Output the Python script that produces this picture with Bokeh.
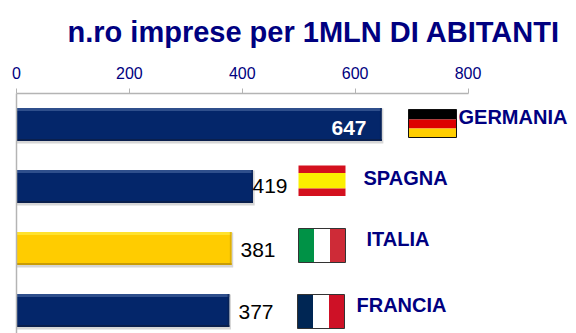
from bokeh.plotting import figure
from bokeh.embed import file_html
from bokeh.resources import INLINE
from bokeh.models import Range1d, FixedTicker, Title
from bokeh.core.properties import value

title_text = "n.ro imprese per 1MLN DI ABITANTI"
countries = ["GERMANIA", "SPAGNA", "ITALIA", "FRANCIA"]
values = [647, 419, 381, 377]
tick_values = [0, 200, 400, 600, 800]
fill = ["#04266a", "#04266a", "#ffcc00", "#04266a"]
top_band = ["#2f4f8c", "#2f4f8c", "#ffe22e", "#2f4f8c"]
low_band = ["#0a1f4d", "#0a1f4d", "#c99c06", "#0a1f4d"]
value_colors = ["white", "black", "black", "black"]

NAVY = "#000080"
W, H = 576, 333
X0, X1 = 16, 576          # page pixels of the plot frame
Y0, Y1 = 93, 333
PXU = 0.5644              # pixels per data unit
STEP = 62.0               # pixels per bar slot
rows = list(range(len(values)))

p = figure(width=W, height=H, output_backend="svg", toolbar_location=None,
           x_axis_location="above",
           x_range=Range1d(0, (X1 - X0) / PXU),
           y_range=Range1d(-0.5 + (Y1 - Y0) / STEP, -0.5),
           min_border_left=X0, min_border_right=0,
           min_border_top=Y0, min_border_bottom=0)
p.outline_line_color = None
p.background_fill_color = "white"
p.grid.visible = False

ax = p.xaxis[0]
ax.ticker = FixedTicker(ticks=tick_values)
ax.bounds = (0, 800)
ax.axis_line_color = "#b4b4b4"
ax.axis_line_width = 1.5
ax.major_tick_line_color = "#b4b4b4"
ax.major_tick_out = 5
ax.major_tick_in = 0
ax.minor_tick_line_color = None
ax.major_label_text_color = NAVY
ax.major_label_text_font = "Liberation Sans"
ax.major_label_text_font_size = "16px"
ax.major_label_standoff = 10

ay = p.yaxis[0]
ay.ticker = FixedTicker(ticks=[])
ay.axis_line_color = "#b4b4b4"
ay.axis_line_width = 1.5
ay.major_tick_line_color = None
ay.minor_tick_line_color = None
ay.major_label_text_font_size = "0px"

def dx(px):
    return (px - X0) / PXU

def dy(py):
    return (py - Y0) / STEP - 0.5

BAR_H = 33 / STEP
px = 1 / STEP
# soft shadow, then the bar and its bevels
p.hbar(y=[r + 1.5 * px for r in rows], left=0, right=[v + 3 for v in values],
       height=BAR_H + 2 * px, fill_color="#d6d6d6", line_color=None)
p.hbar(y=rows, left=0, right=values, height=BAR_H, fill_color=fill, line_color=None)
p.hbar(y=[r - BAR_H / 2 + 1.5 * px for r in rows], left=0, right=values,
       height=3 * px, fill_color=top_band, line_color=None)
p.hbar(y=[r + BAR_H / 2 - 1 * px for r in rows], left=0, right=values,
       height=2 * px, fill_color=low_band, line_color=None)
p.hbar(y=rows, left=[v - 3 for v in values], right=values,
       height=BAR_H, fill_color=low_band, line_color=None, fill_alpha=0.6)

# value labels
val_x = [dx(366), dx(287), dx(275), dx(273)]
val_y = [dy(127), dy(185), dy(249), dy(311)]
p.text(x=val_x[1:], y=val_y[1:], text=[str(v) for v in values[1:]], text_color=value_colors[1:],
       text_font=value("Liberation Sans"), text_font_size="21px",
       text_align="right", text_baseline="middle")
p.text(x=val_x[:1], y=val_y[:1], text=[str(values[0])], text_color=value_colors[0],
       text_font=value("Liberation Sans"), text_font_style="bold", text_font_size="21px",
       text_align="right", text_baseline="middle")

# country names
p.text(x=[dx(458), dx(363), dx(366), dx(356)], y=[dy(116), dy(177), dy(238), dy(304)],
       text=countries, text_color=NAVY, text_font=value("Liberation Sans"),
       text_font_style="bold", text_font_size="20px", text_align="left", text_baseline="middle")

# flags
def band(x0, x1, y0, y1, color):
    p.quad(left=dx(x0), right=dx(x1), bottom=dy(y1), top=dy(y0), fill_color=color, line_color=None)

def outline(x0, x1, y0, y1, color):
    p.quad(left=dx(x0), right=dx(x1), bottom=dy(y1), top=dy(y0), fill_color=None,
           line_color=color, line_width=1)

band(408, 456, 109, 119, "#000000"); band(408, 456, 119, 128, "#dd0000"); band(408, 456, 128, 137, "#ffce00")
outline(408, 456, 109, 137, "#111111")
band(298, 345, 165, 172.5, "#d4101e"); band(298, 345, 172.5, 188, "#fbf000"); band(298, 345, 188, 195.5, "#d4101e")
band(298, 313.5, 228, 262, "#009246"); band(313.5, 329.5, 228, 262, "#ffffff"); band(329.5, 345, 228, 262, "#ce2b37")
outline(298, 345, 228, 262, "#333333")
band(297, 312.5, 294, 328, "#002654"); band(312.5, 328.5, 294, 328, "#ffffff"); band(328.5, 344, 294, 328, "#ce1126")
outline(297, 344, 294, 328, "#333333")

# chart title
p.add_layout(Title(text=title_text, align="left", offset=51, text_color=NAVY,
                   text_font="Liberation Sans", text_font_style="bold", text_font_size="29px",
                   vertical_align="top", standoff=28), "above")

open("out.html", "w").write(file_html(p, INLINE))
